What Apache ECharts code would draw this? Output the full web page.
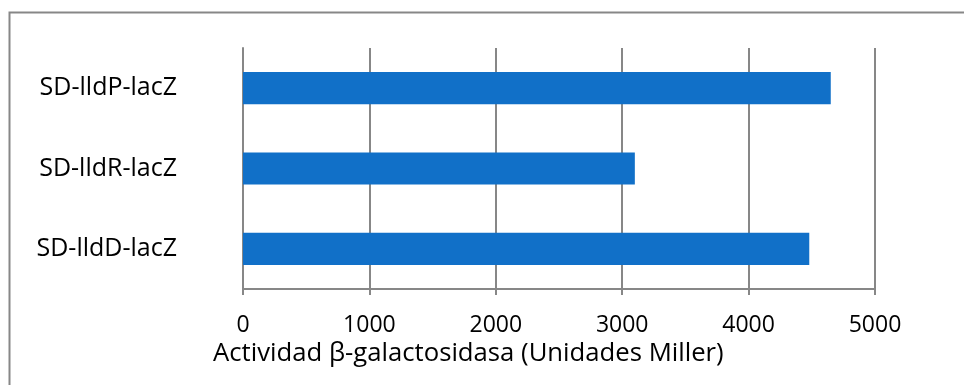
<!DOCTYPE html>
<html>
<head>
<meta charset="utf-8">
<script src="https://cdn.jsdelivr.net/npm/echarts@6/dist/echarts.min.js"></script>
<style>
  html, body { margin: 0; padding: 0; background: #ffffff; }
  #chart { width: 964px; height: 385px; }
</style>
</head>
<body>
<div id="chart"></div>
<script>
// Constructs, bottom to top on the category axis
const constructs = ['SD-lldD-lacZ', 'SD-lldR-lacZ', 'SD-lldP-lacZ'];
// β-galactosidase activity (Miller units)
const activity = [4480, 3100, 4650];
const xTicks = [0, 1000, 2000, 3000, 4000, 5000];
const xTitle = 'Actividad β-galactosidasa (Unidades Miller)';

const FONT = '"Open Sans", "Liberation Sans", sans-serif';
const chart = echarts.init(document.getElementById('chart'));

chart.setOption({
  animation: false,
  backgroundColor: '#ffffff',
  graphic: [{
    // chart frame
    type: 'rect',
    shape: { x: 9.5, y: 12.5, width: 1000, height: 500 },
    style: { fill: 'none', stroke: '#878787', lineWidth: 2 },
    silent: true
  }, {
    // horizontal axis title
    type: 'text',
    left: 213,
    top: 341,
    style: { text: xTitle, font: '25.7px ' + FONT, fill: '#000000' },
    silent: true
  }],
  grid: { left: 243, right: 89, top: 48, bottom: 96, containLabel: false },
  xAxis: {
    type: 'value',
    min: xTicks[0],
    max: xTicks[xTicks.length - 1],
    interval: xTicks[1] - xTicks[0],
    axisLine: { show: true, lineStyle: { color: '#878787', width: 2 } },
    axisTick: { show: true, length: 6, lineStyle: { color: '#878787', width: 2 } },
    axisLabel: {
      fontFamily: FONT, fontSize: 23, color: '#000000', margin: 25,
      formatter: v => String(v)
    },
    splitLine: { show: true, lineStyle: { color: '#878787', width: 2 } }
  },
  yAxis: {
    type: 'category',
    data: constructs,
    axisLine: { show: true, lineStyle: { color: '#878787', width: 2 } },
    axisTick: { show: false },
    axisLabel: { fontFamily: FONT, fontSize: 25, color: '#000000', margin: 66 }
  },
  series: [{
    type: 'bar',
    data: activity,
    barCategoryGap: '60%',
    itemStyle: { color: '#1170C8' }
  }]
});
</script>
</body>
</html>
